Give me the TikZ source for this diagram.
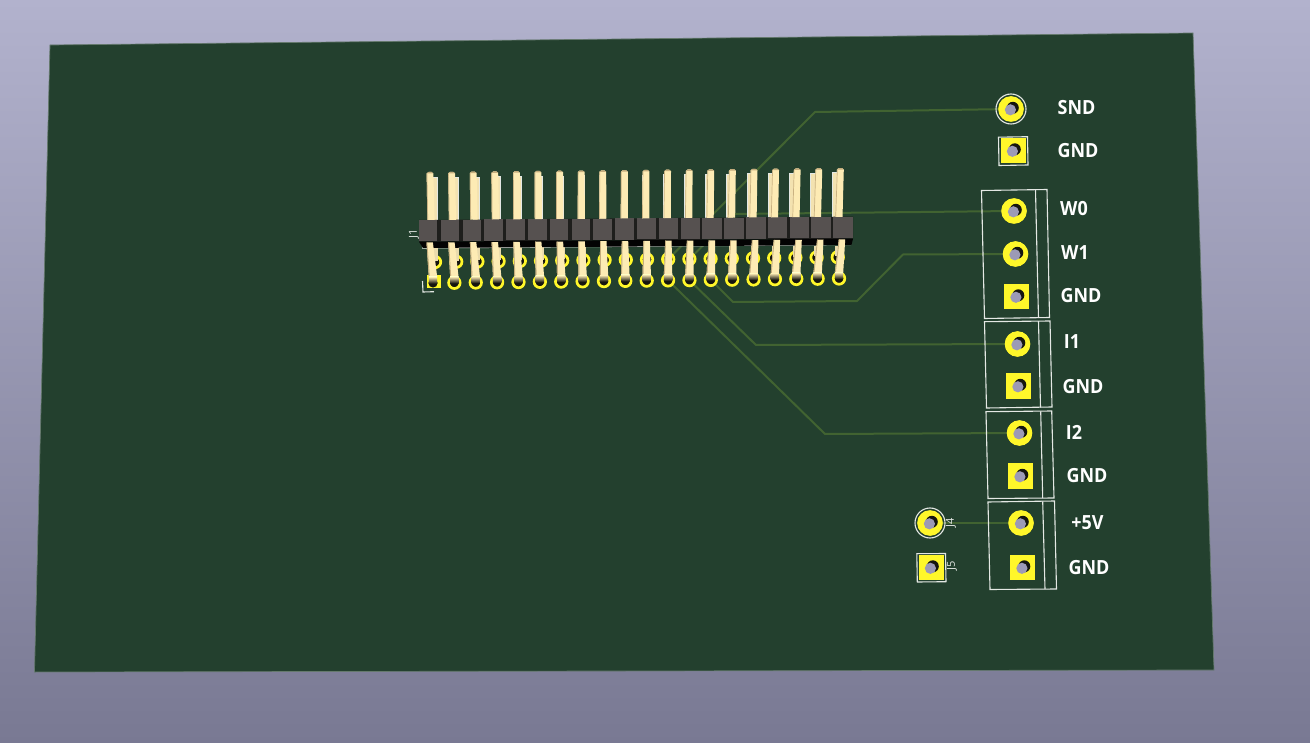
\documentclass[tikz,border=0pt]{standalone}
\usepackage{fontspec}
\setmainfont[FakeStretch=0.92]{Open Sans}
\newfontfamily\smallfont{Open Sans}
\definecolor{bgtop}{HTML}{B2B2CD}
\definecolor{bgbot}{HTML}{797993}
\definecolor{boardc}{HTML}{23402E}
\definecolor{tracec}{HTML}{416331}
\definecolor{padc}{HTML}{FFF72A}
\definecolor{holec}{HTML}{9C9AB6}
\definecolor{holedark}{HTML}{15150F}
\definecolor{pinc}{HTML}{FDEBB4}
\definecolor{pinedge}{HTML}{C4AC7C}
\definecolor{bodyc}{HTML}{565150}
\definecolor{gapc}{HTML}{1E1E1C}
\definecolor{silkc}{HTML}{E4E8E4}
\tikzset{
  x=1pt,y=-1pt,
  padround/.style={circle,fill=padc,minimum size=25pt,inner sep=0pt},
  padsquare/.style={rectangle,fill=padc,minimum size=25.5pt,inner sep=0pt},
  padsmall/.style={circle,draw=padc,line width=2.7pt,fill=holedark,minimum size=11.5pt,inner sep=0pt},
  trace/.style={draw=tracec,line width=2pt,line join=round},
  silk/.style={draw=silkc,line width=1.1pt},
  lab/.style={text=white,font=\bfseries\fontsize{19.5}{20}\selectfont,inner sep=0pt},
  reflab/.style={text=silkc,font=\smallfont\fontsize{11}{12}\selectfont,inner sep=0pt,rotate=90},
}
\newcommand{\drillhole}[1]{%
  \fill[holedark] ([shift={(1.8,-1.2)}]#1.center) circle (6);
  \fill[holec] ([shift={(-0.6,0.8)}]#1.center) circle (5.6);
}
\begin{document}
\begin{tikzpicture}
\useasboundingbox (0,0) rectangle (1310,743);
\shade[top color=bgtop,bottom color=bgbot] (0,0) rectangle (1310,743);
\fill[boardc] (50,45) -- (1193,33) -- (1214,670) -- (34.5,672) -- cycle;
\draw[draw=boardc!70!white,line width=0.7pt] (50,45) -- (1193,33) -- (1214,670) -- (34.5,672) -- cycle;

% pad positions of the two rows used by traces
\coordinate (top11) at (668.2,259.2);
\coordinate (top12) at (689.4,259);
\coordinate (bot11) at (668.1,280.4);
\coordinate (bot12) at (689.4,280.2);
\coordinate (bot13) at (710.8,279.9);

% pads as nodes
\node[padround] (snd) at (1011,109) {};
\node[padsquare,minimum size=25pt] (gnda) at (1013,150.5) {};
\node[padround] (wzero) at (1014,211) {};
\node[padround] (wone) at (1015.5,254) {};
\node[padsquare] (gndb) at (1016.5,296.5) {};
\node[padround] (ione) at (1017.5,344) {};
\node[padsquare] (gndc) at (1018.5,386) {};
\node[padround] (itwo) at (1019.5,433) {};
\node[padsquare] (gndd) at (1020.5,476) {};
\node[padround] (five) at (1021,523) {};
\node[padsquare] (gnde) at (1022.5,567.5) {};
\node[padround] (jfour) at (930,523) {};
\node[padsquare,minimum size=25pt] (jfive) at (931,567.5) {};

% traces
\coordinate (bsnd) at (815,112);
\coordinate (bw) at (735,214);
\coordinate (bwa) at (903,254.5);
\coordinate (bwb) at (857,301);
\coordinate (bwc) at (733,302);
\coordinate (bia) at (756,345);
\coordinate (bib) at (825,434);
\draw[trace] (snd.center) -- (bsnd) -- (top11);
\draw[trace] (wzero.center) -- (bw) -- (top12);
\draw[trace] (wone.center) -- (bwa) -- (bwb) -- (bwc) -- (bot13);
\draw[trace] (ione.center) -- (bia) -- (bot12);
\draw[trace] (itwo.center) -- (bib) -- (bot11);
\draw[trace] (jfour.center) -- (five.center);

% pads redrawn above the traces, with their holes
\foreach \n in {snd,wzero,wone,ione,itwo,five,jfour}{
  \fill[padc] (\n.center) circle (12.8);
  \drillhole{\n}
}
\foreach \n in {gnda,gndb,gndc,gndd,gnde,jfive}{\drillhole{\n}}

% silkscreen
\draw[silk] (snd.center) circle (15);
\draw[silk] (jfour.center) circle (15);
\draw[silk] (998.5,137.2) -- (1027.5,136.7) -- (1028,165) -- (999,165.5) -- cycle;
\draw[silk] (916.8,553.7) -- (945.5,553.5) -- (946,581.7) -- (917.3,582) -- cycle;
\draw[silk] (981.5,190.5) -- (1047,189.5) -- (1049.5,317.5) -- (984.5,318.5) -- cycle;
\draw[silk] (1035.5,190) -- (1038.5,318);
\draw[silk] (984.5,321.7) -- (1050,321) -- (1052,407) -- (986.5,408) -- cycle;
\draw[silk] (1038.5,321.2) -- (1040.5,407.5);
\draw[silk] (986,411.7) -- (1051.7,411) -- (1054,498) -- (988,498.5) -- cycle;
\draw[silk] (1040.7,411.3) -- (1042.7,498.2);
\draw[silk] (988,502) -- (1054.5,501) -- (1056.5,589) -- (990,589.5) -- cycle;
\draw[silk] (1042.7,501.3) -- (1045,589.2);
\draw[silk] (422.5,281) -- (423,292) -- (434,291.7);
\draw[silk] (422,248) -- (851,244.5);

% header: small pads and back pins
\foreach \i in {0,...,19}{
  \pgfmathsetmacro{\bx}{433+\i*21.37}
  \pgfmathsetmacro{\by}{283-\i*0.237}
  \pgfmathsetmacro{\tx}{435+\i*21.2}
  \pgfmathsetmacro{\ty}{262-\i*0.25}
  \pgfmathsetmacro{\sx}{435+\i*21.1}
  \pgfmathsetmacro{\uy}{177.5-\i*0.25}
  \pgfmathsetmacro{\ux}{434+\i*21.1}
  \pgfmathsetmacro{\vy}{220-\i*0.17}
  \ifnum\i=0
    \fill[padc] (427,275.5) rectangle (441.2,288.5);
    \fill[holedark] (\bx,\by) circle (4.6);
  \else
    \node[padsmall] (bp\i) at (\bx,\by) {};
  \fi
  \node[padsmall] (tp\i) at (\tx,\ty) {};
  \draw[silk,line width=0.7pt] (\sx,268) -- (\sx,271.5);
  \fill[pinc!92!gray] (\ux-3,\uy) rectangle (\ux+3,\vy);
  \draw[silk,line width=0.7pt] (\ux-3,\vy) -- (\ux-3,\uy) -- (\ux+3,\uy) -- (\ux+3,\vy);
  \fill[pinc!85!gray] (\tx-2.5,246) rectangle (\tx+2.5,\ty-1);
}

% header: body
\fill[gapc] (419,220) -- (853,216.6) -- (853,238.7) -- (419,241.7) -- cycle;
\fill[black!90!gapc] (419,241.7) -- (853,238.7) -- (851.5,245) -- (423,248) -- cycle;
\foreach \i in {0,...,19}{
  \pgfmathsetmacro{\sa}{419+\i*21.8}
  \pgfmathsetmacro{\sb}{\sa+18+\i*0.1}
  \pgfmathsetmacro{\ya}{220-\i*0.175}
  \pgfmathsetmacro{\yb}{241-\i*0.16}
  \fill[bodyc] (\sa,\ya) rectangle (\sb,\yb);
}

% header: front pins
\foreach \i in {0,...,19}{
  \pgfmathsetmacro{\pa}{430+\i*21.6}
  \pgfmathsetmacro{\pb}{431+\i*21.47}
  \pgfmathsetmacro{\ya}{172-\i*0.21}
  \pgfmathsetmacro{\yb}{220-\i*0.17}
  \pgfmathsetmacro{\pc}{429.7+\i*21.7}
  \pgfmathsetmacro{\pd}{433+\i*21.37}
  \pgfmathsetmacro{\yc}{242.5-\i*0.16}
  \pgfmathsetmacro{\yd}{283-\i*0.237}
  % upper part
  \fill[pinc] (\pa-3.4,\ya+1.5) -- (\pa-1.5,\ya) -- (\pa+1.5,\ya) -- (\pa+3.4,\ya+1.5) -- (\pb+3.6,\yb) -- (\pb-3.6,\yb) -- cycle;
  \fill[pinedge] (\pa-3.4,\ya+1.5) -- (\pa-1.5,\ya) -- (\pa+1.5,\ya) -- (\pa+3.4,\ya+1.5) -- cycle;
  \fill[pinedge!90!pinc] (\pa-3.4,\ya+1.5) -- (\pa-2.7,\ya+1.5) -- (\pb-2.9,\yb) -- (\pb-3.6,\yb) -- cycle;
  % lower part
  \fill[pinc] (\pc-3.2,\yc) -- (\pc+3.2,\yc) -- (\pd+4.2,\yd-6) -- (\pd-4.2,\yd-6) -- cycle;
  \fill[pinedge] (\pc-3.2,\yc) -- (\pc-2.4,\yc) -- (\pd-3.2,\yd-6) -- (\pd-4.2,\yd-6) -- cycle;
  \shade[top color=pinc,bottom color=holedark] (\pd-4.2,\yd-6) rectangle (\pd+4.2,\yd+0.5);
}

% texts
\node[lab] (tsnd) at (1076.5,108) {SND};
\node[lab] (tgnda) at (1078,150.5) {GND};
\node[lab] (twz) at (1074,209) {W0};
\node[lab] (two) at (1075,252.5) {W1};
\node[lab] (tgndb) at (1081,296) {GND};
\node[lab] (tio) at (1072,342) {I1};
\node[lab] (tgndc) at (1083,387) {GND};
\node[lab] (tit) at (1074,432) {I2};
\node[lab] (tgndd) at (1087,476) {GND};
\node[lab] (tfive) at (1087.5,523) {+5V};
\node[lab] (tgnde) at (1089,568) {GND};
\node[reflab] (rjf) at (951,523) {J4};
\node[reflab] (rjv) at (952,566) {J5};
\node[reflab] (rjo) at (414,234) {J1};
\end{tikzpicture}
\end{document}
